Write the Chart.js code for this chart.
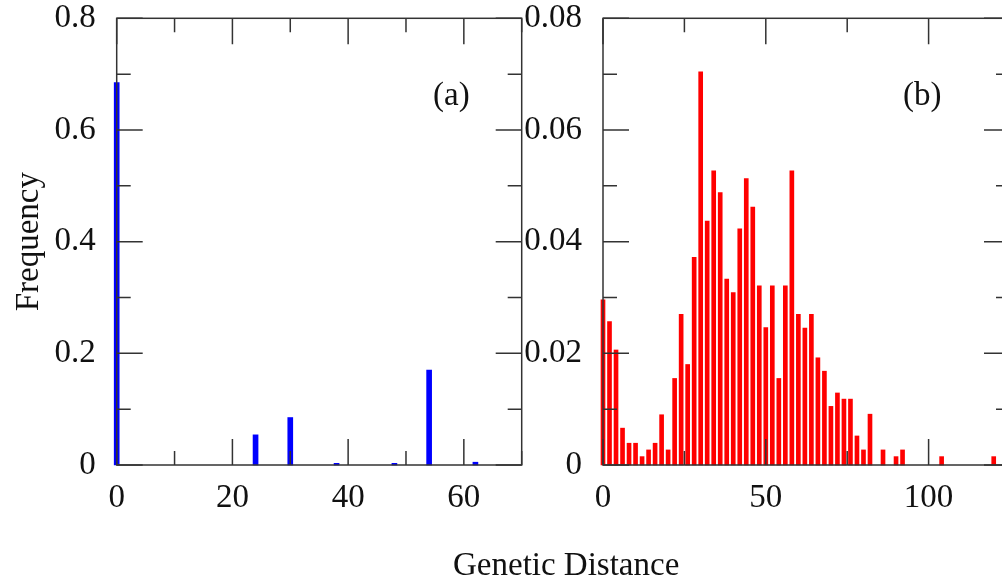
<!DOCTYPE html>
<html>
<head>
<meta charset="utf-8">
<script src="https://cdn.jsdelivr.net/npm/chart.js@4.4.1/dist/chart.umd.min.js"></script>
<style>
  body { margin: 0; width: 1002px; height: 585px; overflow: hidden; background: #fff; position: relative; }
  canvas { position: absolute; }
  .lbl { position: absolute; font-family: 'Liberation Serif', 'Times New Roman', serif; font-size: 33px; line-height: 1; color: #111; white-space: nowrap; }
</style>
</head>
<body>
<div style="position:absolute;left:0;top:-20px;width:540px;height:605px"><canvas id="chartA"></canvas></div>
<div style="position:absolute;left:480px;top:-20px;width:560px;height:605px"><canvas id="chartB"></canvas></div>
<div class="lbl" style="left:433px;top:78px">(a)</div>
<div class="lbl" style="left:903px;top:78px">(b)</div>
<div class="lbl" style="left:453px;top:548px">Genetic Distance</div>
<script>
// panel (a)
const distA = [0, 24, 30, 38, 48, 54, 62];
const freqA = [0.685, 0.054, 0.085, 0.003, 0.003, 0.17, 0.005];
const xLabelsA = ['0', '20', '40', '60'];
const yLabelsA = ['0', '0.2', '0.4', '0.6', '0.8'];

// panel (b)
const distB = [0, 2, 4, 6, 8, 10, 12, 14, 16, 18, 20, 22, 24, 26, 28, 30, 32, 34, 36, 38,
  40, 42, 44, 46, 48, 50, 52, 54, 56, 58, 60, 62, 64, 66, 68, 70, 72, 74, 76, 78,
  80, 82, 86, 90, 92, 104, 120];
const freqB = [0.0296, 0.0257, 0.0206, 0.0066, 0.0039, 0.0039, 0.0015, 0.0027, 0.0039, 0.0090,
  0.0027, 0.0155, 0.0270, 0.0180, 0.0372, 0.0704, 0.0437, 0.0527, 0.0488, 0.0333,
  0.0309, 0.0423, 0.0513, 0.0462, 0.0321, 0.0246, 0.0321, 0.0155, 0.0321, 0.0527,
  0.0270, 0.0245, 0.0270, 0.0192, 0.0168, 0.0105, 0.0129, 0.0118, 0.0118, 0.0052,
  0.0027, 0.0091, 0.0027, 0.0015, 0.0027, 0.0015, 0.0015];
const xLabelsB = ['0', '50', '100'];
const yLabelsB = ['0', '0.02', '0.04', '0.06', '0.08'];

const serif = "'Liberation Serif', 'Times New Roman', serif";

// inward ticks on all four sides plus the box
const frameTicks = {
  id: 'frameTicks',
  afterDatasetsDraw(chart) {
    const { ctx, chartArea: a, scales: { x, y } } = chart;
    ctx.save();
    ctx.strokeStyle = '#333';
    ctx.lineWidth = 1.5;
    ctx.beginPath();
    x.ticks.forEach(t => {
      const px = x.getPixelForValue(t.value);
      const len = t.label ? 26 : 14;
      ctx.moveTo(px, a.bottom); ctx.lineTo(px, a.bottom - len);
      ctx.moveTo(px, a.top); ctx.lineTo(px, a.top + len);
    });
    y.ticks.forEach(t => {
      const py = y.getPixelForValue(t.value);
      const len = t.label ? 26 : 14;
      ctx.moveTo(a.left, py); ctx.lineTo(a.left + len, py);
      ctx.moveTo(a.right, py); ctx.lineTo(a.right - len, py);
    });
    ctx.stroke();
    ctx.strokeRect(a.left, a.top, a.right - a.left, a.bottom - a.top);
    ctx.restore();
  }
};

function pick(labels, dec) {
  return function (value) {
    const s = value === 0 ? '0' : value.toFixed(dec);
    return labels.includes(s) ? s : '';
  };
}

function makeChart(id, dist, freq, color, thick, opts) {
  return new Chart(document.getElementById(id), {
    type: 'bar',
    data: {
      datasets: [{
        data: dist.map((d, i) => ({ x: d, y: freq[i] })),
        backgroundColor: color,
        borderWidth: 0,
        barThickness: thick,
        clip: false
      }]
    },
    options: {
      responsive: true,
      maintainAspectRatio: false,
      animation: false,
      layout: { padding: { top: 38.3, right: opts.padRight, bottom: 0, left: 0 } },
      plugins: { legend: { display: false }, tooltip: { enabled: false } },
      scales: {
        x: {
          type: 'linear',
          offset: false,
          min: 0,
          max: opts.xMax,
          grid: { display: false, offset: false },
          border: { display: false },
          ticks: {
            stepSize: opts.xStep,
            autoSkip: false,
            maxRotation: 0,
            padding: 6,
            color: '#111',
            font: { family: serif, size: 33 },
            callback: pick(opts.xLabels, 0)
          },
          afterFit(scale) { scale.height = 120; }
        },
        y: {
          min: 0,
          max: opts.yMax,
          grid: { display: false },
          border: { display: false },
          ticks: {
            stepSize: opts.yStep,
            autoSkip: false,
            padding: 13,
            color: '#111',
            font: { family: serif, size: 33 },
            callback: pick(opts.yLabels, opts.yDec)
          },
          title: opts.yTitle ? {
            display: true,
            text: opts.yTitle,
            color: '#111',
            font: { family: serif, size: 33 },
            padding: { top: 10, bottom: 0 }
          } : { display: false },
          afterFit(scale) { scale.width = opts.yWidth; }
        }
      }
    },
    plugins: [frameTicks]
  });
}

makeChart('chartA', distA, freqA, '#0000ff', 5, {
  xMax: 70, xStep: 10, xLabels: xLabelsA,
  yMax: 0.8, yStep: 0.1, yLabels: yLabelsA, yDec: 1,
  yTitle: 'Frequency', yWidth: 116.7, padRight: 18.3
});

makeChart('chartB', distB, freqB, '#ff0000', 4, {
  xMax: 125, xStep: 25, xLabels: xLabelsB,
  yMax: 0.08, yStep: 0.01, yLabels: yLabelsB, yDec: 2,
  yTitle: null, yWidth: 123, padRight: 30
});
</script>
</body>
</html>
